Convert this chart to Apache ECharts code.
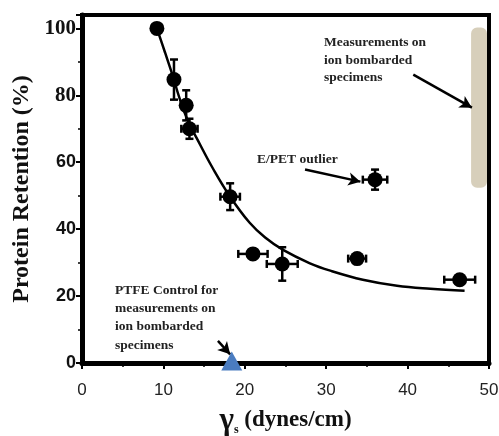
<!DOCTYPE html>
<html>
<head>
<meta charset="utf-8">
<script src="https://cdn.jsdelivr.net/npm/echarts@6/dist/echarts.min.js"></script>
<style>html,body{margin:0;padding:0;background:#fff}#c{width:499px;height:436px}</style>
</head>
<body>
<div id="c"></div>
<script>
// Measured points: surface energy (dynes/cm) vs protein retention (%)
const pointX = [9.2, 11.3, 12.8, 13.2, 18.2, 21.0, 24.6, 33.8, 36.0, 46.4];
const pointY = [100, 84.7, 77.0, 70.0, 49.7, 32.6, 29.6, 31.2, 54.8, 24.9];
const errX   = [0, 0, 0.5, 1.0, 1.2, 1.8, 1.9, 1.1, 1.5, 1.9];
const errY   = [0, 6, 4.5, 3, 4, 0, 5, 0, 3, 0];
// Fitted curve
const curveX = [9.2, 10.2, 11.1, 12.0, 13.0, 14.5, 16.0, 18.2, 20.6, 22.5, 24.7, 28.0, 30.5, 34.5, 38.7, 42.8, 47.0];
const curveY = [100, 92.8, 86.2, 79.0, 72.5, 65.3, 58.5, 49.7, 41.9, 37.5, 33.8, 29.8, 27.6, 24.9, 23.1, 22.2, 21.6];
// PTFE control
const controlX = [18.4];
const controlY = [0.6];
// Shaded band for ion bombarded specimens: [x0, x1, y0, y1]
const band = [47.8, 50, 52.4, 100.3];
// Axis ticks
const xTicks = [0, 10, 20, 30, 40, 50];
const yTicks = [0, 20, 40, 60, 80, 100];

const chart = echarts.init(document.getElementById('c'), null, {renderer: 'canvas'});
const serif = '"Liberation Serif","Times New Roman",serif';
const sans = '"Liberation Sans",Arial,sans-serif';

const pts = pointX.map((x, i) => [x, pointY[i], errX[i], errY[i]]);
const curve = curveX.map((x, i) => [x, curveY[i]]);

chart.setOption({
  animation: false,
  backgroundColor: '#fff',
  grid: {left: 82, right: 10, top: 15, bottom: 73, containLabel: false, outerBoundsMode: 'none',
         show: true, borderColor: '#000', borderWidth: 4, backgroundColor: 'transparent'},
  xAxis: {
    type: 'value', min: xTicks[0], max: xTicks[xTicks.length - 1], interval: 10,
    axisLine: {show: true, onZero: false, lineStyle: {color: '#000', width: 5}},
    axisTick: {show: true, length: 6, lineStyle: {color: '#000', width: 2}},
    minorTick: {show: true, splitNumber: 2, length: 4, lineStyle: {color: '#000', width: 1.5}},
    splitLine: {show: false},
    axisLabel: {color: '#222', fontFamily: sans, fontSize: 17, margin: 19},
    name: '{g|γ}{s|s}{t| (dynes/cm)}',
    nameLocation: 'middle', nameGap: 42,
    nameTextStyle: {
      rich: {
        g: {fontFamily: serif, fontWeight: 'bold', fontSize: 31, color: '#111'},
        s: {fontFamily: serif, fontWeight: 'bold', fontSize: 12, color: '#111', verticalAlign: 'bottom', padding: [8, 0, 0, 0]},
        t: {fontFamily: serif, fontWeight: 'bold', fontSize: 23, color: '#111'}
      }
    }
  },
  yAxis: {
    type: 'value', min: 0, max: 104, interval: 20,
    axisLine: {show: true, onZero: false, lineStyle: {color: '#000', width: 5}},
    axisTick: {show: true, length: 6, lineStyle: {color: '#000', width: 2}},
    minorTick: {show: true, splitNumber: 2, length: 4, lineStyle: {color: '#000', width: 1.5}},
    splitLine: {show: false},
    axisLabel: {
      margin: 6,
      formatter: function (v) {
        if (yTicks.indexOf(v) < 0) return '';
        return (v >= 80 ? '{a|' : '{b|') + v + '}';
      },
      rich: {
        a: {fontFamily: serif, fontWeight: 'bold', fontSize: 21, color: '#111'},
        b: {fontFamily: sans, fontWeight: 'bold', fontSize: 18, color: '#111'}
      }
    },
    name: 'Protein Retention (%)',
    nameLocation: 'middle', nameGap: 42,
    nameTextStyle: {fontFamily: serif, fontWeight: 'bold', fontSize: 24, color: '#111'}
  },
  graphic: [
    {type: 'text', left: 324, top: 34, style: {text: 'Measurements on\nion bombarded\nspecimens', font: 'bold 13.5px ' + serif, fill: '#222', lineHeight: 17.5}},
    {type: 'text', left: 257, top: 153, style: {text: 'E/PET outlier', font: 'bold 13.5px ' + serif, fill: '#222'}},
    {type: 'text', left: 115, top: 281, style: {text: 'PTFE Control for\nmeasurements on\nion bombarded\nspecimens', font: 'bold 13.5px ' + serif, fill: '#222', lineHeight: 18.3}}
  ],
  series: [
    {
      type: 'custom', z: 1, clip: false,
      data: [band],
      renderItem: function (params, api) {
        const p0 = api.coord([api.value(0), api.value(3)]);
        const p1 = api.coord([api.value(1), api.value(2)]);
        return {type: 'rect', shape: {x: p0[0], y: p0[1], width: p1[0] - p0[0] - 2, height: p1[1] - p0[1], r: 6}, style: {fill: '#d7cfbb'}};
      }
    },
    {
      type: 'line', data: curve, smooth: 0.4, symbol: 'none', z: 3,
      lineStyle: {color: '#000', width: 2.5}
    },
    {
      type: 'custom', z: 4,
      data: pts,
      renderItem: function (params, api) {
        const x = api.value(0), y = api.value(1), ex = api.value(2), ey = api.value(3);
        const c = api.coord([x, y]);
        const children = [];
        const ls = {stroke: '#000', lineWidth: 2.5};
        const cap = 4;
        if (ey > 0) {
          const t = api.coord([x, y + ey]), b = api.coord([x, y - ey]);
          children.push({type: 'line', shape: {x1: c[0], y1: t[1], x2: c[0], y2: b[1]}, style: ls});
          children.push({type: 'line', shape: {x1: c[0] - cap, y1: t[1], x2: c[0] + cap, y2: t[1]}, style: ls});
          children.push({type: 'line', shape: {x1: c[0] - cap, y1: b[1], x2: c[0] + cap, y2: b[1]}, style: ls});
        }
        if (ex > 0) {
          const l = api.coord([x - ex, y]), r = api.coord([x + ex, y]);
          children.push({type: 'line', shape: {x1: l[0], y1: c[1], x2: r[0], y2: c[1]}, style: ls});
          children.push({type: 'line', shape: {x1: l[0], y1: c[1] - cap, x2: l[0], y2: c[1] + cap}, style: ls});
          children.push({type: 'line', shape: {x1: r[0], y1: c[1] - cap, x2: r[0], y2: c[1] + cap}, style: ls});
        }
        children.push({type: 'circle', shape: {cx: c[0], cy: c[1], r: 7.5}, style: {fill: '#000'}});
        return {type: 'group', children: children};
      }
    },
    {
      type: 'scatter', data: controlX.map((x, i) => [x, controlY[i]]), symbol: 'triangle', symbolSize: [21, 19],
      itemStyle: {color: '#4a7cc0', opacity: 1}, z: 10, clip: false,
      markLine: {
        silent: true, symbol: ['none', 'arrow'], symbolSize: [10, 12],
        lineStyle: {color: '#000', width: 2.5, type: 'solid'}, label: {show: false},
        data: [
          [{coord: [40.7, 86.2]}, {coord: [47.9, 76.3]}],
          [{coord: [27.4, 57.8]}, {coord: [34.2, 54.2]}],
          [{coord: [16.7, 6.6]}, {coord: [18.2, 2.6]}]
        ]
      }
    }
  ]
});
</script>
</body>
</html>
